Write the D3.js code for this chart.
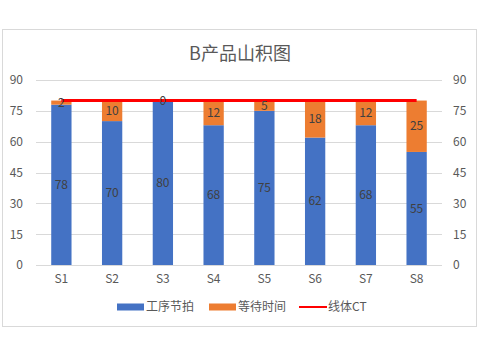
<!DOCTYPE html>
<html><head><meta charset="utf-8">
<script src="https://cdn.jsdelivr.net/npm/d3@7"></script>
<style>body{margin:0;background:#fff}svg{display:block}</style>
</head><body>
<svg id="c" width="480" height="357"></svg>
<script>
const categories = ["S1","S2","S3","S4","S5","S6","S7","S8"];
const cycleTime = [78,70,80,68,75,62,68,55];     // 工序节拍
const waitTime = [2,10,0,12,5,18,12,25];         // 等待时间
const lineCT = [80,80,80,80,80,80,80,80];        // 线体CT
const yTicks = [0,15,30,45,60,75,90];
const seriesNames = ["工序节拍","等待时间","线体CT"];
const title = "B产品山积图";

const font = "'Noto Sans CJK SC','Noto Sans',sans-serif";
const svg = d3.select("#c");
svg.append("rect").attr("x",2.5).attr("y",29.5).attr("width",474).attr("height",297)
  .attr("fill","#fff").attr("stroke","#D9D9D9");

const x = d3.scaleBand().domain(categories).range([36,442]).paddingInner(0.6).paddingOuter(0.3);
const y = d3.scaleLinear().domain([0,90]).range([265,80]);

svg.append("text").attr("x",240).attr("y",60).attr("text-anchor","middle")
  .attr("font-family",font).attr("font-size",18).attr("fill","#595959").text(title);

// grid
svg.append("g").selectAll("line").data(yTicks).join("line")
  .attr("x1",36).attr("x2",442).attr("y1",d=>Math.round(y(d))+0.5).attr("y2",d=>Math.round(y(d))+0.5)
  .attr("stroke","#D9D9D9").attr("stroke-width",1);

// axes
const yl = svg.append("g").attr("transform","translate(36,0)")
  .call(d3.axisLeft(y).tickValues(yTicks).tickSize(0).tickPadding(13));
const yr = svg.append("g").attr("transform","translate(442,0)")
  .call(d3.axisRight(y).tickValues(yTicks).tickSize(0).tickPadding(11));
const xa = svg.append("g").attr("transform","translate(0,265)")
  .call(d3.axisBottom(x).tickSize(0).tickPadding(9));
[yl,yr,xa].forEach(g=>{
  g.select(".domain").remove();
  g.selectAll("text").attr("font-family",font).attr("font-size",12).attr("fill","#595959");
});

const data = categories.map((c,i)=>({c, a:cycleTime[i], b:waitTime[i], ct:lineCT[i]}));
const bw = x.bandwidth();
// blue
svg.append("g").selectAll("rect").data(data).join("rect")
  .attr("x",d=>x(d.c)).attr("width",bw)
  .attr("y",d=>y(d.a)).attr("height",d=>y(0)-y(d.a)).attr("fill","#4472C4");
// orange
svg.append("g").selectAll("rect").data(data).join("rect")
  .attr("x",d=>x(d.c)).attr("width",bw)
  .attr("y",d=>y(d.a+d.b)).attr("height",d=>y(d.a)-y(d.a+d.b)).attr("fill","#ED7D31");

// line
const line = d3.line().x(d=>x(d.c)+bw/2).y(d=>y(d.ct));
svg.append("path").datum(data).attr("d",line).attr("fill","none")
  .attr("stroke","#FF0000").attr("stroke-width",3);

// labels
const lab = svg.append("g").attr("font-family",font).attr("font-size",12).attr("fill","#404040")
  .attr("text-anchor","middle");
lab.selectAll("text.a").data(data).join("text").attr("class","a")
  .attr("x",d=>x(d.c)+bw/2).attr("y",d=>(y(0)+y(d.a))/2).attr("dy","0.35em").text(d=>d.a);
lab.selectAll("text.b").data(data).join("text").attr("class","b")
  .attr("x",d=>x(d.c)+bw/2).attr("y",d=>(y(d.a)+y(d.a+d.b))/2).attr("dy","0.35em").text(d=>d.b);

// legend
const lg = svg.append("g").attr("font-family",font).attr("font-size",12).attr("fill","#595959");
const leg = [{n:seriesNames[0],c:"#4472C4",t:"rect",x:117},{n:seriesNames[1],c:"#ED7D31",t:"rect",x:209},{n:seriesNames[2],c:"#FF0000",t:"line",x:299}];
leg.forEach(l=>{
  if(l.t==="rect") lg.append("rect").attr("x",l.x).attr("y",303.5).attr("width",27).attr("height",7).attr("fill",l.c);
  else lg.append("line").attr("x1",l.x).attr("x2",l.x+28).attr("y1",307).attr("y2",307).attr("stroke",l.c).attr("stroke-width",2);
  lg.append("text").attr("x",l.x+29).attr("y",307).attr("dy","0.35em").text(l.n);
});
</script>
</body></html>
